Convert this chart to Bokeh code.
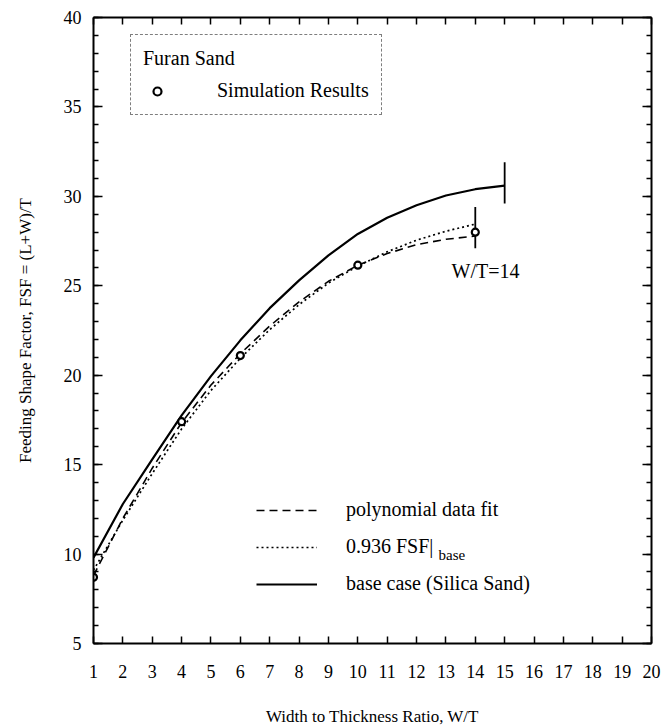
from bokeh.plotting import figure
from bokeh.models import (Range1d, LinearAxis, FixedTicker, Legend, LegendItem,
                          Label)
from bokeh.embed import file_html
from bokeh.resources import INLINE

# ---------------- data ----------------
base_x = [1, 2, 3, 4, 5, 6, 7, 8, 9, 10, 11, 12, 13, 14, 15]
base_fsf = [9.8, 12.8, 15.3, 17.75, 19.95, 21.95, 23.75, 25.3, 26.7, 27.9,
            28.8, 29.5, 30.05, 30.4, 30.6]

poly_x = [1, 2, 3, 4, 5, 6, 7, 8, 9, 10, 11, 12, 13, 14]
poly_fsf = [8.8, 12.0, 14.8, 17.35, 19.45, 21.2, 22.75, 24.1, 25.25, 26.15,
            26.8, 27.3, 27.6, 27.78]

scaled_x = [1, 2, 3, 4, 5, 6, 7, 8, 9, 10, 11, 12, 13, 14]
scaled_fsf = [9.1, 11.9, 14.5, 17.0, 19.15, 20.95, 22.55, 23.95, 25.15, 26.1,
              26.9, 27.55, 28.05, 28.45]

sim_x = [1, 4, 6, 10, 14]
sim_fsf = [8.7, 17.4, 21.1, 26.15, 28.0]

end_x = [14, 15]
end_lo = [27.1, 29.6]
end_hi = [29.4, 31.9]

x_ticks = list(range(1, 21))
y_ticks = [5, 10, 15, 20, 25, 30, 35, 40]
y_minor = list(range(5, 41))

FONT = "Liberation Serif"

p = figure(width=665, height=728, output_backend="svg", toolbar_location=None,
           x_range=Range1d(1, 20), y_range=Range1d(5, 40),
           min_border_left=93, min_border_right=14, min_border_top=17,
           min_border_bottom=85, x_axis_type=None, y_axis_type=None)
p.outline_line_color = None
p.xgrid.visible = False
p.ygrid.visible = False
p.background_fill_color = "white"
p.border_fill_color = "white"


def style_axis(ax, labels=True, major_in=7, minor_in=0):
    ax.axis_line_width = 2
    ax.axis_line_color = "black"
    ax.major_tick_in = major_in
    ax.major_tick_out = 0
    ax.minor_tick_in = minor_in
    ax.minor_tick_out = 0
    ax.major_tick_line_width = 1.5
    ax.minor_tick_line_width = 1.5
    ax.major_tick_line_color = "black"
    ax.minor_tick_line_color = "black"
    ax.major_label_text_font = FONT
    ax.major_label_text_color = "black"
    ax.major_label_text_font_size = "18px"
    ax.axis_label_text_color = "black"
    if not labels:
        ax.major_label_text_font_size = "0px"
        ax.major_label_text_color = None


xb = LinearAxis(ticker=FixedTicker(ticks=x_ticks))
style_axis(xb, True, 7)
xb.major_label_standoff = 21
xb.axis_label = "Width to Thickness Ratio, W/T"
xb.axis_label_text_font = FONT
xb.axis_label_text_font_style = "normal"
xb.axis_label_text_font_size = "17px"
xb.axis_label_standoff = 26
p.add_layout(xb, "below")

xt = LinearAxis(ticker=FixedTicker(ticks=x_ticks))
style_axis(xt, False, 7)
p.add_layout(xt, "above")

yl = LinearAxis(ticker=FixedTicker(ticks=y_ticks, minor_ticks=y_minor))
style_axis(yl, True, 9, 5)
yl.major_label_standoff = 12
yl.axis_label = "Feeding Shape Factor, FSF = (L+W)/T"
yl.axis_label_text_font = FONT
yl.axis_label_text_font_style = "normal"
yl.axis_label_text_font_size = "17px"
yl.axis_label_standoff = 26
p.add_layout(yl, "left")

yr = LinearAxis(ticker=FixedTicker(ticks=y_ticks, minor_ticks=y_minor))
style_axis(yr, False, 9, 5)
p.add_layout(yr, "right")

# ---------------- curves ----------------
r_base = p.line(base_x, base_fsf, line_color="black", line_width=2.2)
r_poly = p.line(poly_x, poly_fsf, line_color="black", line_width=1.6,
                line_dash="8 5")
r_scaled = p.line(scaled_x, scaled_fsf, line_color="black", line_width=1.7,
                  line_dash="2 3")

p.segment(x0=end_x, y0=end_lo, x1=end_x, y1=end_hi, line_color="black",
          line_width=1.8)

r_sim = p.scatter(sim_x, sim_fsf, marker="circle", size=7, line_width=2.2,
                  line_color="black", fill_color="white")

p.add_layout(Label(x=14.35, y=25.85, text="W/T=14", text_font=FONT,
                   text_font_size="20px", text_align="center",
                   text_baseline="middle", text_color="black"))

# ---------------- legends ----------------
leg_top = Legend(items=[LegendItem(label="Simulation Results", renderers=[r_sim])],
                 title="Furan Sand", location=(37, 528), orientation="vertical")
leg_top.title_text_font = FONT
leg_top.title_text_font_size = "20px"
leg_top.title_text_font_style = "normal"
leg_top.title_text_color = "black"
leg_top.title_standoff = 9
leg_top.label_text_font = FONT
leg_top.label_text_font_size = "20px"
leg_top.label_text_color = "black"
leg_top.glyph_width = 28
leg_top.label_standoff = 46
leg_top.padding = 12
leg_top.border_line_color = "black"
leg_top.border_line_dash = "2 2"
leg_top.border_line_width = 1.5
leg_top.background_fill_alpha = 0
p.add_layout(leg_top)

leg_bot = Legend(items=[LegendItem(label="polynomial data fit", renderers=[r_poly]),
                        LegendItem(label="0.936 FSF|", renderers=[r_scaled]),
                        LegendItem(label="base case (Silica Sand)", renderers=[r_base])],
                 location=(163, 48), orientation="vertical")
leg_bot.label_text_font = FONT
leg_bot.label_text_font_size = "20px"
leg_bot.label_text_color = "black"
leg_bot.glyph_width = 61
leg_bot.glyph_height = 20
leg_bot.label_height = 20
leg_bot.label_standoff = 29
leg_bot.spacing = 14
leg_bot.padding = 0
leg_bot.border_line_alpha = 0
leg_bot.background_fill_alpha = 0
p.add_layout(leg_bot)

p.add_layout(Label(x=345, y=643 - 554, x_units="screen", y_units="screen",
                   text="base", text_font=FONT, text_font_size="15px",
                   text_baseline="middle", text_color="black"))

open("out.html", "w").write(file_html(p, INLINE))
